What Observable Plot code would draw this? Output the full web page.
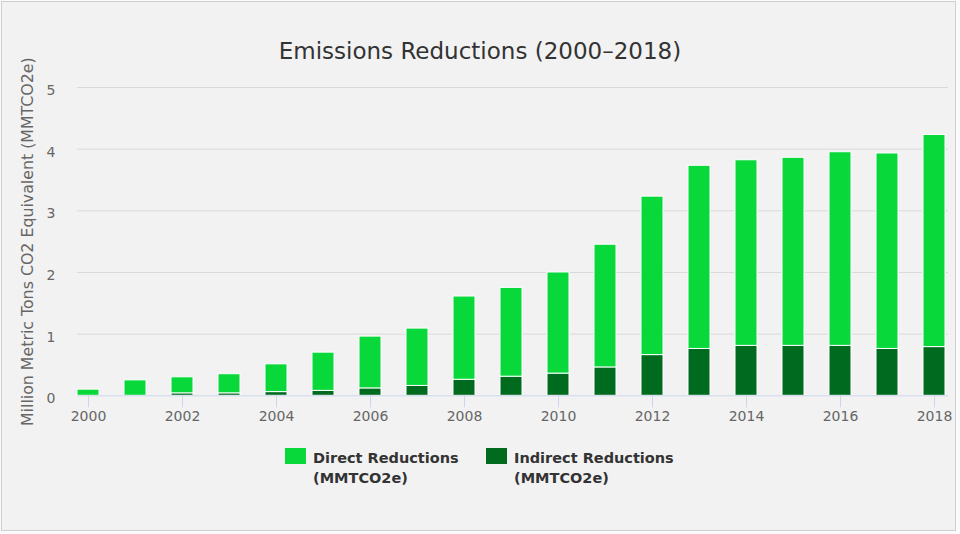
<!DOCTYPE html>
<html>
<head>
<meta charset="utf-8">
<script src="https://cdn.jsdelivr.net/npm/d3@7"></script>
<script src="https://cdn.jsdelivr.net/npm/@observablehq/plot@0.6"></script>
<style>
  html, body { margin: 0; padding: 0; background: #fafafa; }
  #wrap { position: relative; width: 960px; height: 534px; overflow: hidden; font-family: "DejaVu Sans", sans-serif; }
  #frame { position: absolute; left: 1px; top: 1px; width: 953px; height: 528px; border: 1px solid #cfcfcf; background: #f2f2f2; }
  #chart { position: absolute; left: 0; top: 0; }
  #title { position: absolute; left: 0; top: 40px; width: 960px; text-align: center; font-size: 23px; line-height: 23px; color: #333; }
  .leg { position: absolute; top: 448px; font-size: 14.5px; font-weight: bold; line-height: 20px; color: #333; }
  .sw { position: absolute; top: 448px; width: 21px; height: 16px; }
</style>
</head>
<body>
<div id="wrap">
  <div id="frame"></div>
  <div id="chart"></div>
  <div id="title">Emissions Reductions (2000–2018)</div>
  <div class="sw" id="sw1" style="left:285px"></div>
  <div class="leg" style="left:313px">Direct Reductions<br>(MMTCO2e)</div>
  <div class="sw" id="sw2" style="left:486px"></div>
  <div class="leg" style="left:514px">Indirect Reductions<br>(MMTCO2e)</div>
</div>
<script>
const years = [2000, 2001, 2002, 2003, 2004, 2005, 2006, 2007, 2008, 2009,
               2010, 2011, 2012, 2013, 2014, 2015, 2016, 2017, 2018];
const direct = [0.10, 0.25, 0.26, 0.31, 0.45, 0.62, 0.84, 0.93, 1.35, 1.44,
                1.64, 1.99, 2.57, 2.97, 3.01, 3.05, 3.14, 3.17, 3.44];
const indirect = [0.00, 0.00, 0.04, 0.04, 0.06, 0.08, 0.12, 0.16, 0.26, 0.31,
                  0.36, 0.46, 0.66, 0.76, 0.81, 0.81, 0.81, 0.76, 0.79];
const seriesNames = ["Direct Reductions (MMTCO2e)", "Indirect Reductions (MMTCO2e)"];
const seriesColors = ["#08d83a", "#006a1f"];
const xTicks = [2000, 2002, 2004, 2006, 2008, 2010, 2012, 2014, 2016, 2018];
const yTicks = [0, 1, 2, 3, 4, 5];
const yTitle = "Million Metric Tons CO2 Equivalent (MMTCO2e)";

document.getElementById("sw1").style.background = seriesColors[0];
document.getElementById("sw2").style.background = seriesColors[1];

const data = years.flatMap((yr, i) => [
  {year: yr, series: seriesNames[1], value: indirect[i]},
  {year: yr, series: seriesNames[0], value: direct[i]}
]);

const chart = Plot.plot({
  width: 960,
  height: 534,
  marginLeft: 77,
  marginRight: 12,
  marginTop: 87,
  marginBottom: 138.7,
  style: {background: "transparent", fontFamily: "DejaVu Sans, sans-serif", fontSize: "14px", color: "#666"},
  x: {type: "band", domain: years, range: [61.85, 960.65], paddingInner: 0.54, paddingOuter: 0.27, axis: null},
  y: {domain: [0, 5], axis: null},
  color: {domain: seriesNames, range: seriesColors},
  marks: [
    Plot.ruleY(yTicks.filter(d => d > 0), {stroke: "#d9d9d9", strokeWidth: 1}),
    Plot.barY(data, {x: "year", y: "value", fill: "series", z: "series",
      order: [seriesNames[1], seriesNames[0]], stroke: "#ffffff", strokeWidth: 1}),
    Plot.ruleY([0], {stroke: "#ccd6eb", strokeWidth: 1}),
    Plot.axisX({ticks: xTicks, tickFormat: d => String(d), tickSize: 12, tickPadding: 3, stroke: "#ccd6eb", fill: "#666", fontSize: 14, label: null}),
    Plot.axisY({ticks: yTicks, tickFormat: d => String(d), tickSize: 0, tickPadding: 22, fill: "#666", fontSize: 14, dy: 3, label: null}),
    Plot.text([yTitle], {frameAnchor: "left", dx: -50, rotate: -90, textAnchor: "middle", lineAnchor: "middle", fill: "#666", fontSize: 15.8})
  ]
});
document.getElementById("chart").appendChild(chart);
</script>
</body>
</html>
